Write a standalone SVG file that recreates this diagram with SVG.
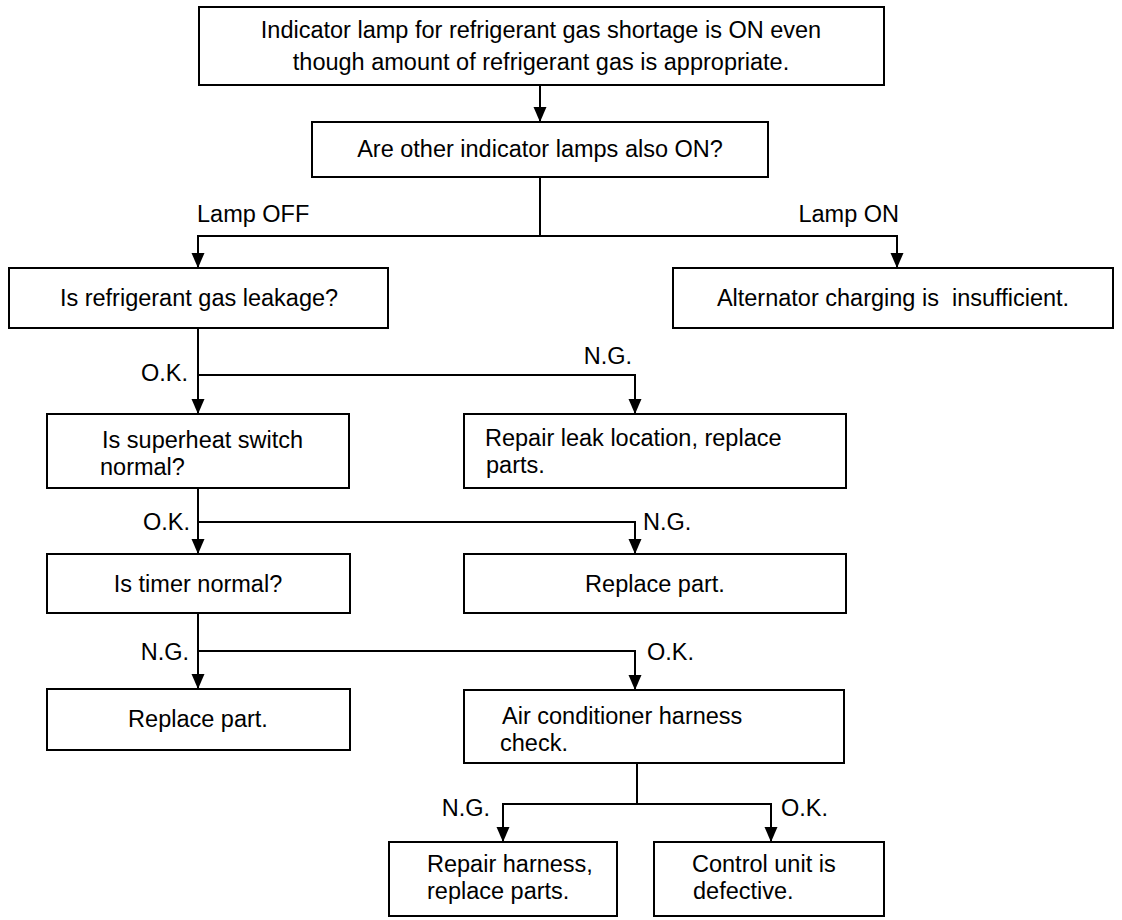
<svg xmlns="http://www.w3.org/2000/svg" width="1122" height="920" viewBox="0 0 1122 920">
<style>
.box{fill:#fff;stroke:#000;stroke-width:2}
.t{font-family:"Liberation Sans",Arial,sans-serif;font-size:23.5px;fill:#000}
.c{text-anchor:middle}
.e{text-anchor:end}
.ln{fill:none;stroke:#000;stroke-width:2}
</style>
<defs>
<marker id="ah" markerUnits="userSpaceOnUse" markerWidth="16" markerHeight="14" refX="15" refY="6.5" orient="auto">
<path d="M0,0 L15,6.5 L0,13 z" fill="#000"/>
</marker>
</defs>
<rect width="1122" height="920" fill="#fff"/>
<g id="connectors">
<path class="ln" d="M540,85 V122" marker-end="url(#ah)"/>
<path class="ln" d="M540,177 V236"/>
<path class="ln" d="M540,236 H198 V268" marker-end="url(#ah)"/>
<path class="ln" d="M540,236 H897 V268" marker-end="url(#ah)"/>
<path class="ln" d="M198,328 V414" marker-end="url(#ah)"/>
<path class="ln" d="M198,375 H635 V414" marker-end="url(#ah)"/>
<path class="ln" d="M198,488 V554" marker-end="url(#ah)"/>
<path class="ln" d="M198,522 H635 V554" marker-end="url(#ah)"/>
<path class="ln" d="M198,613 V689" marker-end="url(#ah)"/>
<path class="ln" d="M198,651 H635 V690" marker-end="url(#ah)"/>
<path class="ln" d="M637,763 V804"/>
<path class="ln" d="M637,804 H503 V842" marker-end="url(#ah)"/>
<path class="ln" d="M637,804 H771 V842" marker-end="url(#ah)"/>
</g>
<g id="labels">
<text class="t" x="197" y="222">Lamp OFF</text>
<text class="t e" x="899" y="222">Lamp ON</text>
<text class="t e" x="188" y="381">O.K.</text>
<text class="t e" x="632" y="364">N.G.</text>
<text class="t e" x="190" y="530">O.K.</text>
<text class="t" x="643" y="530">N.G.</text>
<text class="t e" x="189" y="660">N.G.</text>
<text class="t" x="647" y="660">O.K.</text>
<text class="t e" x="490" y="816">N.G.</text>
<text class="t" x="781" y="816">O.K.</text>
</g>
<g id="n1">
<rect class="box" x="199" y="7" width="685" height="78"/>
<text class="t c" x="541" y="38">Indicator lamp for refrigerant gas shortage is ON even</text>
<text class="t c" x="541" y="70">though amount of refrigerant gas is appropriate.</text>
</g>
<g id="n2">
<rect class="box" x="312" y="122" width="456" height="55"/>
<text class="t c" x="540" y="157">Are other indicator lamps also ON?</text>
</g>
<g id="n3">
<rect class="box" x="9" y="268" width="379" height="60"/>
<text class="t c" x="199" y="306">Is refrigerant gas leakage?</text>
</g>
<g id="n4">
<rect class="box" x="673" y="268" width="440" height="60"/>
<text class="t c" x="893" y="306">Alternator charging is&#160; insufficient.</text>
</g>
<g id="n5">
<rect class="box" x="47" y="414" width="302" height="74"/>
<text class="t" x="102" y="448">Is superheat switch</text>
<text class="t" x="100" y="475">normal?</text>
</g>
<g id="n6">
<rect class="box" x="464" y="414" width="382" height="74"/>
<text class="t" x="485" y="446">Repair leak location, replace</text>
<text class="t" x="486" y="473">parts.</text>
</g>
<g id="n7">
<rect class="box" x="47" y="554" width="303" height="59"/>
<text class="t c" x="198" y="592">Is timer normal?</text>
</g>
<g id="n8">
<rect class="box" x="464" y="554" width="382" height="59"/>
<text class="t c" x="655" y="592">Replace part.</text>
</g>
<g id="n9">
<rect class="box" x="47" y="689" width="303" height="61"/>
<text class="t c" x="198" y="727">Replace part.</text>
</g>
<g id="n10">
<rect class="box" x="464" y="690" width="380" height="73"/>
<text class="t" x="502" y="724">Air conditioner harness</text>
<text class="t" x="500" y="751">check.</text>
</g>
<g id="n11">
<rect class="box" x="389" y="842" width="228" height="74"/>
<text class="t" x="427" y="872">Repair harness,</text>
<text class="t" x="427" y="899">replace parts.</text>
</g>
<g id="n12">
<rect class="box" x="654" y="842" width="230" height="74"/>
<text class="t" x="692" y="872">Control unit is</text>
<text class="t" x="693" y="899">defective.</text>
</g>
</svg>
